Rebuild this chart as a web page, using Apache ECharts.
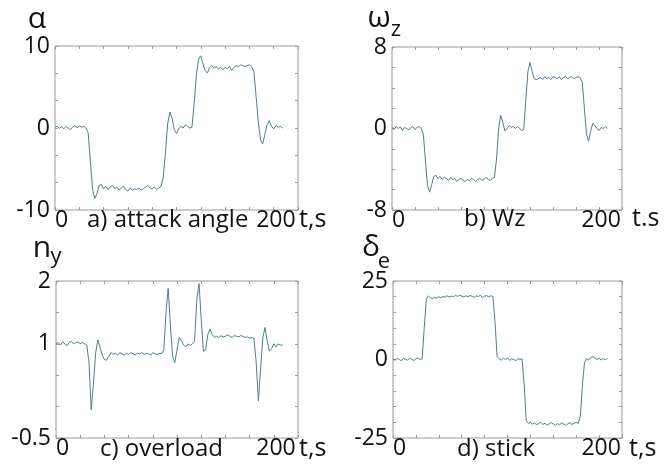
<!DOCTYPE html>
<html>
<head>
<meta charset="utf-8">
<script src="https://cdn.jsdelivr.net/npm/echarts@6/dist/echarts.min.js"></script>
<style>html,body{margin:0;padding:0;background:#fff}#c{width:668px;height:468px}</style>
</head>
<body>
<div id="c"></div>
<script>
// time, s
const time = [0,2,4,6,8,10,12,14,16,18,20,22,24,26,28,30,32,34,36,38,40,42,44,46,48,50,52,54,56,58,60,62,64,66,68,70,72,74,76,78,80,82,84,86,88,90,92,94,96,98,100,102,104,106,108,110,112,114,116,118,120,122,124,126,128,130,132,134,136,138,140,142,144,146,148,150,152,154,156,158,160,162,164,166,168,170,172,174,176,178,180,182,184,186,188,190,192,194,196,198,200,202,204,206];

// a) attack angle alpha
const alphaValues = [0.1,0.2,0.0,0.15,-0.1,0.2,0.0,-0.2,0.1,0.3,0.0,0.25,0.1,0.2,0.0,
  -0.6,-4.0,-7.5,-8.6,-8.0,-7.0,
  -6.9,-7.4,-7.1,-7.5,-7.2,-7.0,-7.4,-7.2,-7.6,-7.3,-7.1,-7.5,-7.7,-7.3,-7.6,-7.4,-7.5,-7.3,-7.6,-7.4,-7.2,-7.0,-7.3,-7.4,-7.2,-7.5,-7.3,-7.1,
  -6.0,-3.0,0.5,1.95,1.2,-0.2,-0.65,-0.1,0.2,0.0,0.4,0.2,0.0,0.1,
  3.0,6.5,8.4,8.8,7.8,7.0,6.7,
  7.4,7.6,7.3,7.5,7.2,7.4,7.1,7.4,7.2,7.5,7.0,7.4,7.6,7.5,7.7,7.6,7.5,7.6,7.7,7.5,
  6.9,4.0,0.8,-1.4,-1.95,-0.8,0.4,0.9,0.2,-0.1,0.3,0.1,0.2,0.0];

// b) Wz
const omegaValues = [0.1,-0.1,0.2,0.0,0.15,-0.2,0.1,0.0,-0.15,0.1,0.2,-0.1,0.1,0.2,0.0,
  -0.6,-3.2,-5.6,-6.25,-5.5,-4.7,
  -4.6,-4.9,-4.7,-5.0,-4.8,-4.9,-5.1,-4.8,-5.0,-4.9,-5.2,-5.0,-4.9,-5.1,-5.2,-5.0,-5.1,-4.9,-5.0,-5.2,-5.0,-4.9,-5.1,-5.0,-4.8,-5.0,-5.1,-4.9,
  -4.8,-3.0,0.0,1.3,0.6,-0.25,0.0,0.3,0.1,0.2,0.0,0.2,0.0,-0.2,
  -0.1,2.8,5.6,6.5,5.6,4.9,4.8,
  4.9,5.0,4.8,5.1,4.9,5.0,4.8,5.1,5.0,4.9,5.1,4.8,5.0,5.1,4.9,5.0,5.1,4.9,5.0,5.1,
  5.0,4.5,2.0,-0.5,-1.25,-0.3,0.5,0.3,0.0,-0.2,0.1,0.0,0.2,0.0];

// c) overload ny
const nyValues = [1.0,1.02,0.98,1.03,1.0,0.97,1.02,1.04,1.0,1.02,1.03,1.0,1.02,1.0,0.98,
  0.7,-0.05,0.35,0.85,1.06,0.95,
  0.82,0.75,0.74,0.8,0.86,0.83,0.85,0.82,0.86,0.84,0.82,0.85,0.83,0.86,0.84,0.82,0.85,0.84,0.86,0.83,0.85,0.84,0.82,0.86,0.84,0.83,0.85,0.84,
  0.9,1.5,1.88,1.3,0.8,0.70,0.9,1.1,1.05,0.98,0.95,1.0,0.97,1.0,
  1.05,1.7,1.96,1.4,0.88,0.9,1.15,
  1.23,1.15,1.1,1.12,1.1,1.13,1.11,1.12,1.14,1.12,1.1,1.13,1.12,1.11,1.13,1.12,1.1,1.11,1.09,1.1,
  1.08,0.7,0.09,0.6,1.1,1.26,1.05,0.88,0.92,1.0,0.95,1.0,0.98,0.98];

// d) stick delta_e
const deltaValues = [0.2,-0.3,0.4,0.0,-0.4,0.3,0.1,-0.2,0.4,0.0,-0.3,0.2,0.5,0.0,0.2,
  10,19.2,20.3,19.6,19.4,19.8,
  19.5,20.0,19.6,20.1,19.8,20.3,19.9,20.2,20.0,20.4,20.1,20.5,20.2,19.9,20.3,20.0,20.4,20.1,19.8,20.3,20.0,20.5,19.7,20.2,20.4,19.9,20.3,20.1,
  12,1.0,0.3,-0.2,0.4,0.0,0.5,-0.3,0.2,0.0,-0.4,0.3,0.0,0.2,
  -8,-19.5,-20.3,-20.0,-20.6,-20.2,-20.8,
  -20.4,-20.0,-20.7,-20.3,-20.9,-20.5,-20.1,-20.6,-21.0,-20.4,-20.8,-20.2,-20.6,-21.0,-20.5,-20.1,-20.7,-20.3,-20.0,-20.4,
  -18,-8,-1.0,0.3,-0.2,0.6,0.9,0.5,0.0,0.4,-0.2,0.3,0.0,0.3];

// y tick labels
const alphaTicks = [-10, 0, 10];
const omegaTicks = [-8, 0, 8];
const nyTicks = [-0.5, 1, 2];
const deltaTicks = [-25, 0, 25];
const xTickLabels = [0, 200];

const captions = ['a) attack angle', 'b) Wz', 'c) overload', 'd) stick'];
const timeUnits = ['t,s', 't.s', 't,s', 't,s'];

const chart = echarts.init(document.getElementById('c'), null, {renderer: 'canvas'});

const numFont = "'Open Sans', sans-serif";
const txtFont = "'Open Sans', sans-serif";
const boxColor = '#9a9a9a';
const lineColor = '#4f7f88';

const panels = [
  {grid: {left: 55, right: 370, top: 46, height: 164}, yMin: -10, yMax: 10, yInt: 10/3, ticks: alphaTicks, values: alphaValues},
  {grid: {left: 392, right: 46, top: 47, height: 163}, yMin: -8, yMax: 8, yInt: 2, ticks: omegaTicks, values: omegaValues},
  {grid: {left: 56, right: 370, top: 281, height: 157}, yMin: -0.5, yMax: 2, yInt: 0.5, ticks: nyTicks, values: nyValues},
  {grid: {left: 393, right: 46, top: 281, height: 157}, yMin: -25, yMax: 25, yInt: 5, ticks: deltaTicks, values: deltaValues}
];

const grids = [], xAxes = [], yAxes = [], series = [];
panels.forEach((p, i) => {
  grids.push(Object.assign({show: true, borderColor: boxColor, borderWidth: 1, backgroundColor: 'transparent'}, p.grid));
  const tick = {show: true, inside: true, length: 3, lineStyle: {color: boxColor, width: 1}};
  const line = {show: false, onZero: false};
  xAxes.push({type: 'value', gridIndex: i, min: 0, max: 220, interval: 22, position: 'bottom',
    axisLine: line, splitLine: {show: false}, axisTick: tick,
    axisLabel: {customValues: xTickLabels, color: '#111', fontFamily: numFont, fontSize: 23, margin: -1, alignMinLabel: 'left'}});
  xAxes.push({type: 'value', gridIndex: i, min: 0, max: 220, interval: 22, position: 'top',
    axisLine: line, splitLine: {show: false}, axisTick: tick, axisLabel: {show: false}});
  yAxes.push({type: 'value', gridIndex: i, min: p.yMin, max: p.yMax, interval: p.yInt, position: 'left',
    axisLine: line, splitLine: {show: false}, axisTick: tick,
    axisLabel: {customValues: p.ticks, color: '#111', fontFamily: numFont, fontSize: 23, margin: 5}});
  yAxes.push({type: 'value', gridIndex: i, min: p.yMin, max: p.yMax, interval: p.yInt, position: 'right',
    axisLine: line, splitLine: {show: false}, axisTick: tick, axisLabel: {show: false}});
  series.push({type: 'line', xAxisIndex: 2 * i, yAxisIndex: 2 * i, showSymbol: false, symbol: 'none',
    data: time.map((t, k) => [t, p.values[k]]),
    lineStyle: {color: lineColor, width: 1}, itemStyle: {color: lineColor}, silent: true});
});

function txt(x, y, s, size, align, family) {
  return {type: 'text', x: x, y: y, silent: true,
    style: {text: s, fill: '#111', font: size + 'px ' + (family || txtFont), align: align || 'left', verticalAlign: 'middle'}};
}

const graphic = [
  // axis symbols
  txt(37, 19, 'α', 30, 'center'),
  txt(379, 18, 'ω', 30, 'center'),
  txt(396, 30, 'z', 22, 'center'),
  txt(42, 248, 'n', 30, 'center'),
  txt(56, 257, 'y', 22, 'center'),
  txt(371, 247, 'δ', 30, 'center'),
  txt(384, 262, 'e', 22, 'center'),
  // captions
  txt(87, 220, captions[0], 24),
  txt(464, 219, captions[1], 24),
  txt(100, 449, captions[2], 24),
  txt(457, 449, captions[3], 24),
  // time units
  txt(299, 220, timeUnits[0], 25),
  txt(632, 219, timeUnits[1], 25),
  txt(299, 449, timeUnits[2], 25),
  txt(629, 449, timeUnits[3], 25)
];

chart.setOption({
  animation: false,
  backgroundColor: '#fff',
  grid: grids, xAxis: xAxes, yAxis: yAxes, series: series, graphic: graphic
});
</script>
</body>
</html>
